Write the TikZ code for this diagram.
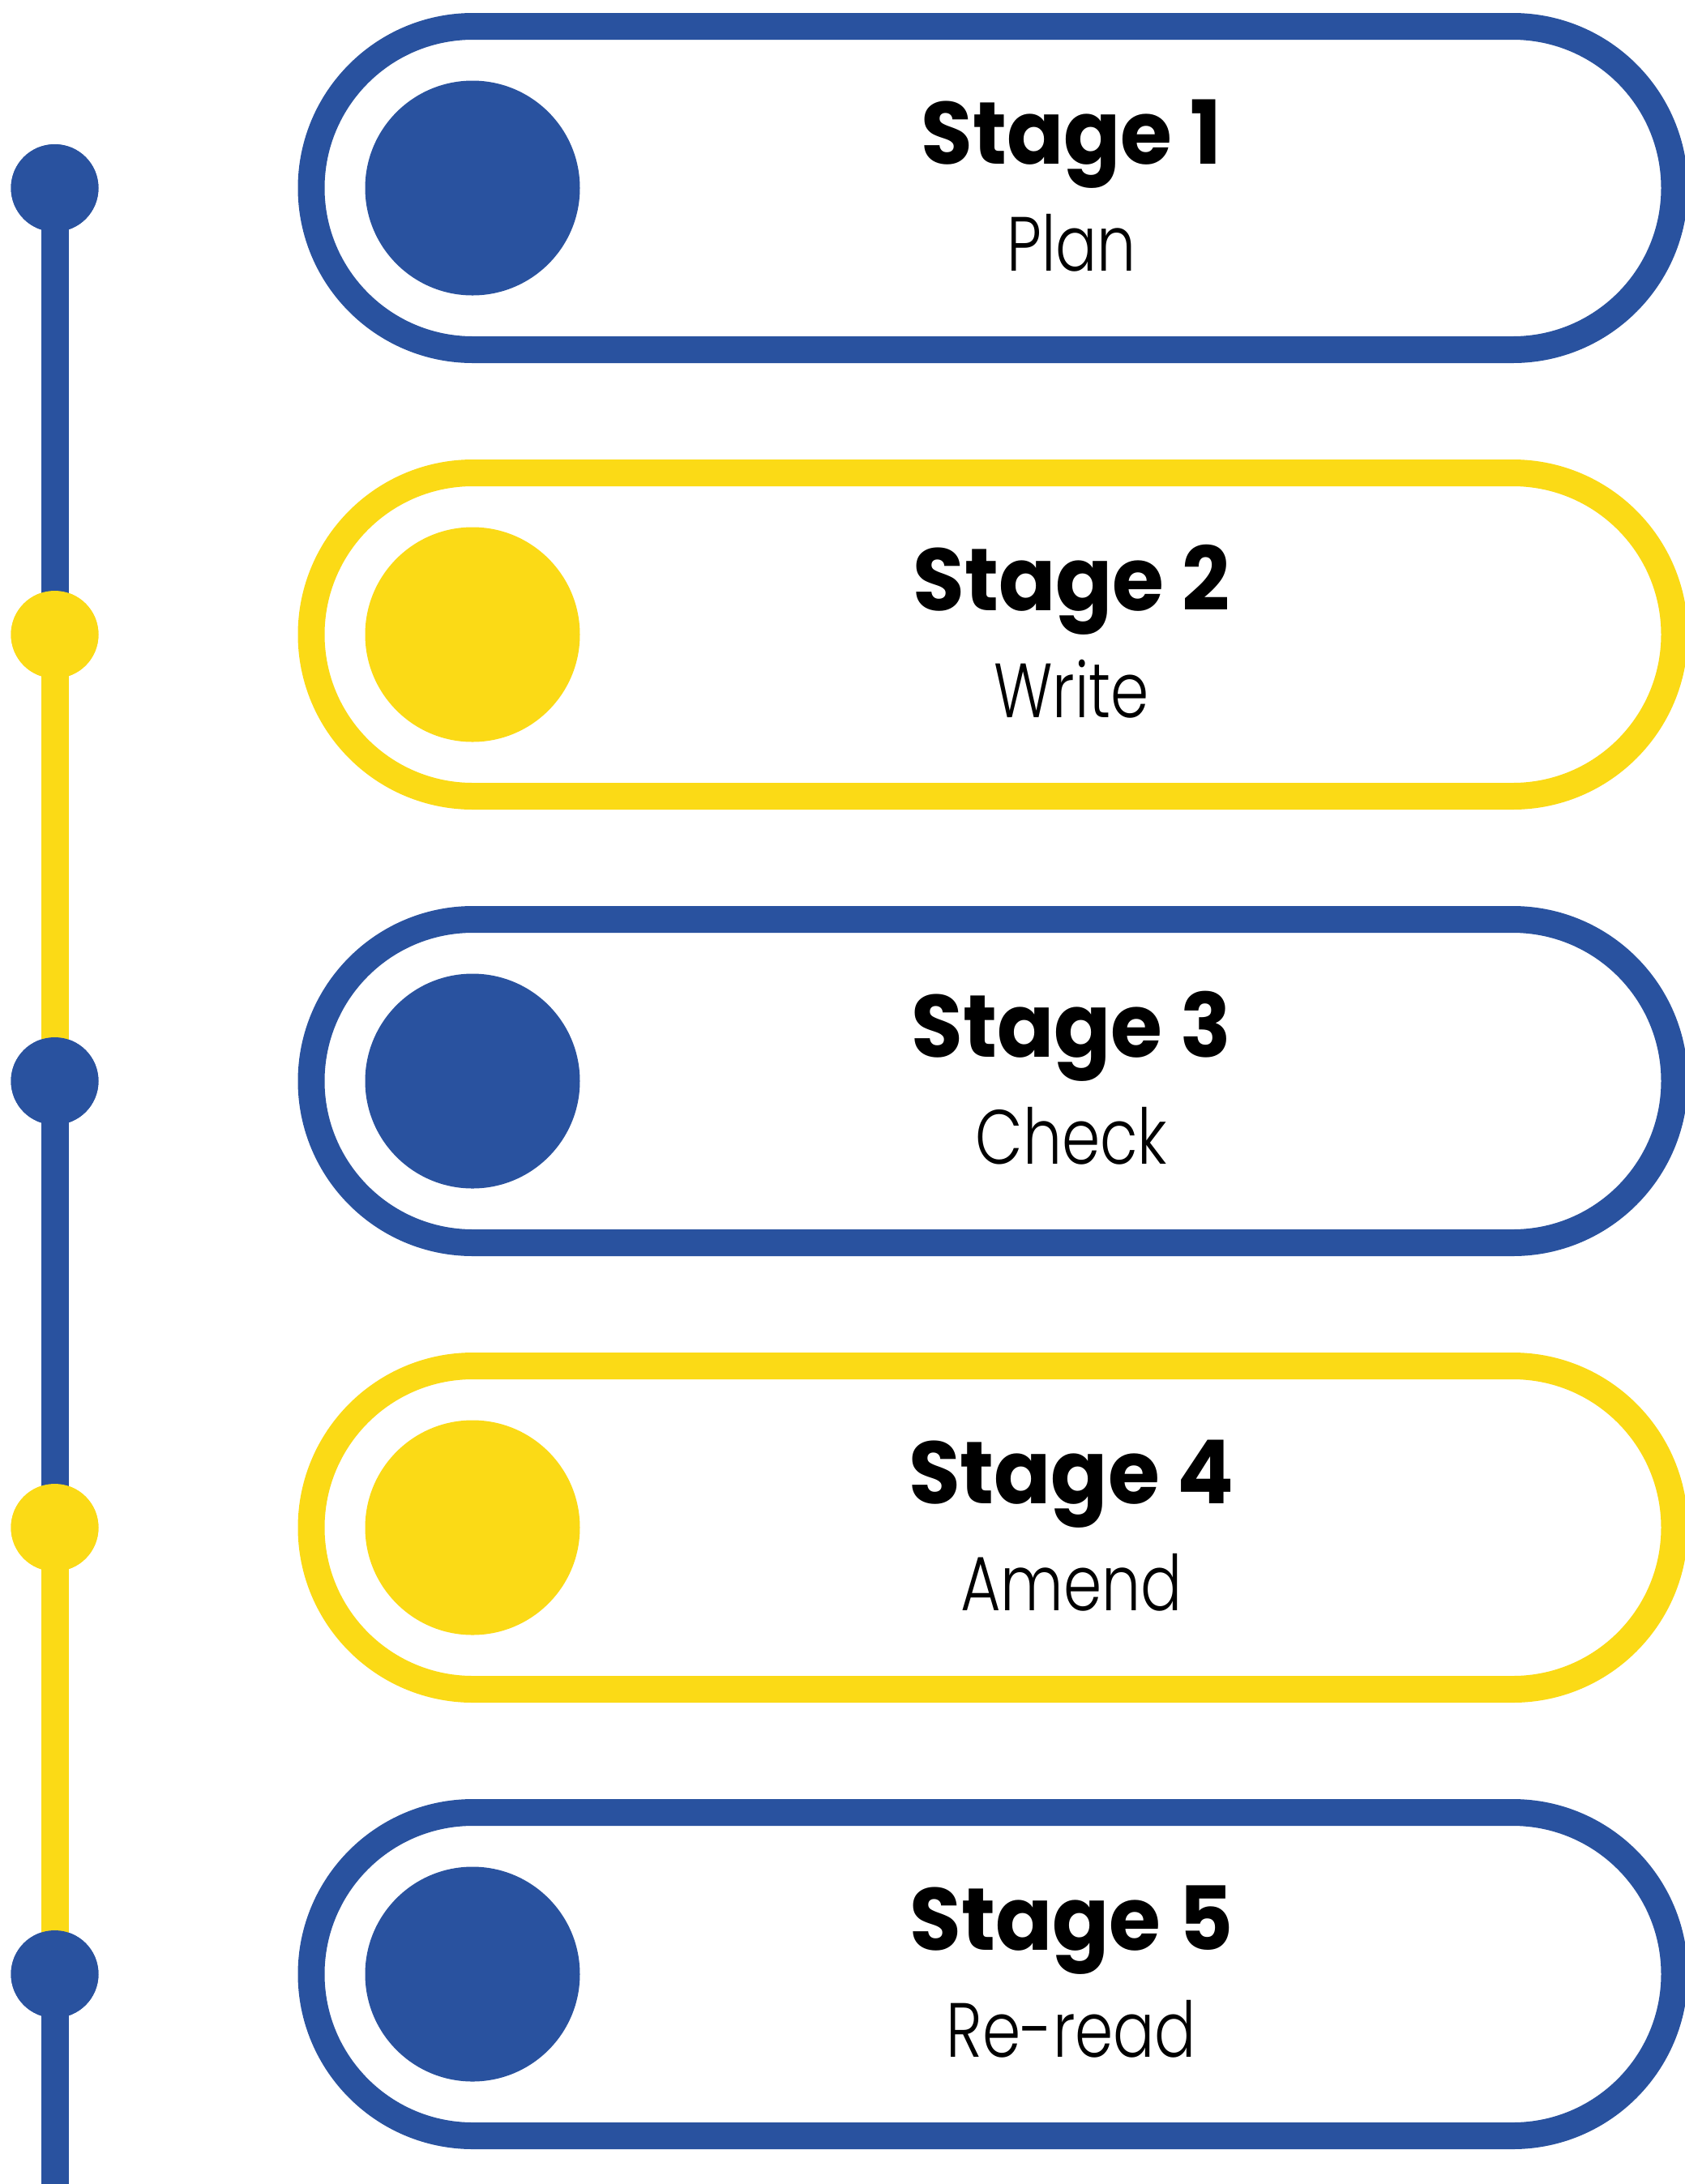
\documentclass[tikz,border=0pt]{standalone}
\usepackage{fontspec}
\setmainfont{Poppins}[BoldFont={Poppins Bold}]
\newfontfamily\subfont{Poppins Light}
\definecolor{tlblue}{HTML}{29529F}
\definecolor{tlyellow}{HTML}{FBDA16}
\begin{document}
\begin{tikzpicture}[x=1cm,y=1cm,
  pill/.style={draw=#1, line width=0.33cm, rectangle, rounded corners=1.995cm,
    minimum width=16.82cm, minimum height=3.99cm, inner sep=0pt, fill=white},
  bigdot/.style={circle, fill=#1, minimum size=2.65cm, inner sep=0pt},
  smalldot/.style={circle, fill=#1, minimum size=1.08cm, inner sep=0pt},
  tline/.style={draw=#1, line width=0.34cm},
  title/.style={anchor=base, font=\fontsize{31}{31}\selectfont\bfseries, text=black, inner sep=0pt},
  subtitle/.style={anchor=base, font=\fontsize{27}{27}\selectfont\subfont, text=black, inner sep=0pt}
]
\useasboundingbox (0,0) rectangle (20.79,-26.95);
% rows
\foreach \i/\y/\c/\t/\s in {1/-2.32/tlblue/Stage 1/Plan, 2/-7.83/tlyellow/Stage 2/Write, 3/-13.34/tlblue/Stage 3/Check, 4/-18.85/tlyellow/Stage 4/Amend, 5/-24.36/tlblue/Stage 5/Re-read}{
  \node[pill=\c] (p\i) at (12.25,\y) {};
  \node[bigdot=\c] (b\i) at (5.83,\y) {};
  \node[title] (t\i) at (13.22,\y+0.30) {\scalebox{0.95}[1]{\t}};
  \node[subtitle] (s\i) at (13.22,\y-1.02) {\scalebox{0.8}[1]{\s}};
  \node[smalldot=\c] (d\i) at (0.675,\y) {};
}
\coordinate (bot) at (0.675,-26.95);
% timeline segments
\draw[tline=tlblue] (d1.center) -- (d2.center);
\draw[tline=tlyellow] (d2.center) -- (d3.center);
\draw[tline=tlblue] (d3.center) -- (d4.center);
\draw[tline=tlyellow] (d4.center) -- (d5.center);
\draw[tline=tlblue] (d5.center) -- (bot);
\foreach \i/\c in {1/tlblue,2/tlyellow,3/tlblue,4/tlyellow,5/tlblue}{
  \node[smalldot=\c] at (d\i) {};
}
\end{tikzpicture}
\end{document}
